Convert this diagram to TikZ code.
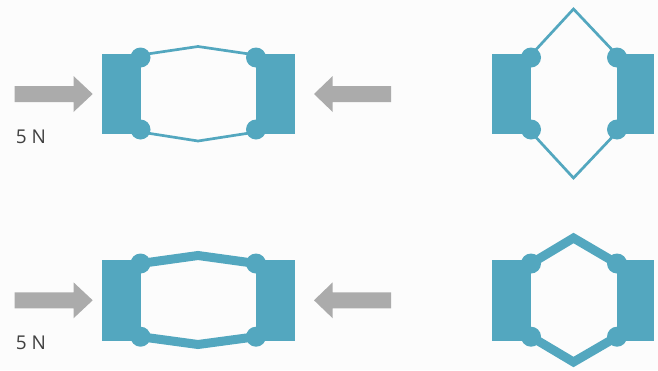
\documentclass[tikz,border=0pt]{standalone}
\usepackage{fontspec}
\setmainfont{Open Sans}
\definecolor{teal1}{HTML}{53A7BF}
\definecolor{grey1}{HTML}{ABABAB}
\tikzset{
  x=1pt,y=-1pt,
  block/.style={fill=teal1,draw=none},
  hinge/.style={fill=teal1,draw=none},
  thinlink/.style={draw=teal1,line width=2.7pt,miter limit=10},
  thicklink/.style={draw=teal1,line width=9pt,miter limit=10},
  force/.style={fill=grey1,draw=none},
  forcelabel/.style={inner sep=0pt,text=black!75,font=\fontsize{19}{19}\selectfont}
}
\newcommand{\mechanism}[9]{%
  % #1 x0 #2 x1 #3 x2 #4 x3 #5 ytop #6 ybot #7 apex x #8 apex top y #9 apex bottom y
  \fill[block] (#1,#5) rectangle (#2,#6);
  \fill[block] (#3,#5) rectangle (#4,#6);
  \coordinate (tl) at (#2,#5+3.5);
  \coordinate (bl) at (#2,#6-4);
  \coordinate (tr) at (#3,#5+3.5);
  \coordinate (br) at (#3,#6-4);
  \coordinate (tlo) at (#2,#5+1);
  \coordinate (blo) at (#2,#6-1.5);
  \coordinate (tro) at (#3,#5+1);
  \coordinate (bro) at (#3,#6-1.5);
  \coordinate (at) at (#7,#8);
  \coordinate (ab) at (#7,#9);
  \foreach \c in {tl,bl,tr,br}{\fill[hinge] (\c) circle[radius=10pt];}
}
\newcommand{\forcearrows}[1]{%
  \fill[force] (14.7,#1-8) -- (73.5,#1-8) -- (73.5,#1-18) -- (92.7,#1) -- (73.5,#1+18) -- (73.5,#1+8) -- (14.7,#1+8) -- cycle;
  \fill[force] (391,#1-8) -- (332.7,#1-8) -- (332.7,#1-18) -- (314,#1) -- (332.7,#1+18) -- (332.7,#1+8) -- (391,#1+8) -- cycle;
}
\begin{document}
\begin{tikzpicture}
\useasboundingbox (0,0) rectangle (658,370);
\fill[white!99!black] (0,0) rectangle (658,370);
% top left
\mechanism{102}{140.5}{256}{295}{54}{133.5}{198}{46.5}{141}
\draw[thinlink] (tlo) -- (at) -- (tro);
\draw[thinlink] (blo) -- (ab) -- (bro);
\forcearrows{94}
\node[forcelabel,anchor=center] (lab1) at (31,137) {5 N};
% top right
\mechanism{491.7}{531}{617}{654}{54}{133.5}{573.5}{9}{178}
\draw[thinlink] (tlo) -- (at) -- (tro);
\draw[thinlink] (blo) -- (ab) -- (bro);
% bottom left
\mechanism{102}{140.5}{256}{295}{260}{340.7}{198}{255.5}{344.5}
\draw[thicklink] (tl) -- (at) -- (tr);
\draw[thicklink] (bl) -- (ab) -- (br);
\forcearrows{300.3}
\node[forcelabel,anchor=center] (lab2) at (31,343) {5 N};
% bottom right
\mechanism{491.7}{531}{617}{654}{260}{340.7}{573.5}{238}{362}
\draw[thicklink] (tl) -- (at) -- (tr);
\draw[thicklink] (bl) -- (ab) -- (br);
\end{tikzpicture}
\end{document}
